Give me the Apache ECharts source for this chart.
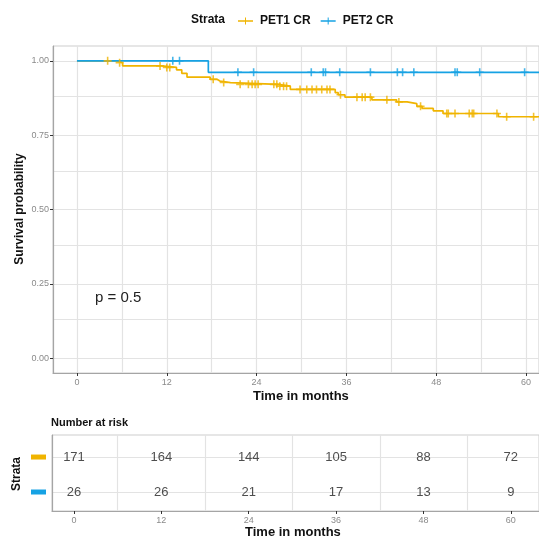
<!DOCTYPE html>
<html>
<head>
<meta charset="utf-8">
<script src="https://cdn.jsdelivr.net/npm/echarts@6/dist/echarts.min.js"></script>
<style>
  html, body { margin: 0; padding: 0; background: #fff; }
  #chart { width: 539px; height: 543px; }
</style>
</head>
<body>
<div id="chart"></div>
<script>
// strata
const strata = ['PET1 CR', 'PET2 CR'];
const colors = ['#F0B400', '#16A2E4'];

// KM steps (time in months, survival after the step)
const pet1Times = [0, 5.3, 6.1, 11.3, 13.3, 14.0, 14.7, 17.8, 18.7, 19.1, 20.5, 26.9, 28.5, 34.5, 34.9, 35.8, 39.4, 42.7, 44.1, 45.4, 46.1, 47.6, 48.9, 56.3, 64];
const pet1Surv  = [1.0, 0.994, 0.983, 0.978, 0.970, 0.958, 0.945, 0.938, 0.932, 0.927, 0.921, 0.915, 0.904, 0.893, 0.886, 0.878, 0.869, 0.862, 0.856, 0.847, 0.840, 0.832, 0.823, 0.812, 0.812];
const pet2Times = [0, 17.55, 64];
const pet2Surv  = [1.0, 0.9615, 0.9615];

// censoring times
const pet1Censor = [4.1, 5.7, 11.1, 12.0, 12.4, 18.2, 19.6, 21.8, 22.9, 23.4, 23.8, 24.2, 26.3, 26.7, 27.1, 27.6, 28.0, 29.8, 30.7, 31.4, 32.0, 32.7, 33.4, 33.8, 35.2, 37.4, 38.1, 38.5, 39.2, 41.4, 43.0, 45.9, 49.4, 49.6, 50.5, 52.4, 52.8, 53.0, 56.1, 57.4, 61.0];
const pet2Censor = [12.8, 13.7, 21.5, 23.6, 31.3, 32.9, 33.2, 35.1, 39.2, 42.8, 43.5, 45.0, 50.5, 50.8, 53.8, 59.8];

// number at risk
const riskTimes = [0, 12, 24, 36, 48, 60];
const pet1Risk = [171, 164, 144, 105, 88, 72];
const pet2Risk = [26, 26, 21, 17, 13, 9];

const xTicks = [0, 12, 24, 36, 48, 60];
const xGrid = [0, 6, 12, 18, 24, 30, 36, 42, 48, 54, 60];
const riskGrid = [6, 18, 30, 42, 54];
const yTicks = [0, 0.25, 0.5, 0.75, 1];
const yGrid = [0, 0.125, 0.25, 0.375, 0.5, 0.625, 0.75, 0.875, 1];
const pText = 'p = 0.5';

function survAt(times, surv, t) {
  let s = surv[0];
  for (let i = 0; i < times.length; i++) {
    if (times[i] <= t) s = surv[i];
  }
  return s;
}

const plus = 'path://M-0.2,-1H0.2V-0.2H1V0.2H0.2V1H-0.2V0.2H-1V-0.2H-0.2Z';
const gridLine = { color: '#e3e3e3', width: 1.2, type: 'solid' };
const tickLabel = { color: '#8a8a8a', fontSize: 9, fontFamily: 'Liberation Sans' };
const titleStyle = { fontSize: 12, fontWeight: 'bold', fill: '#111', fontFamily: 'Liberation Sans' };

const chart = echarts.init(document.getElementById('chart'));

chart.setOption({
  animation: false,
  textStyle: { fontFamily: 'Liberation Sans' },
  grid: [
    { left: 53, top: 46, right: 0, height: 327, show: true, borderColor: '#cdcdcd', borderWidth: 1 },
    { left: 52, top: 435, right: 0, height: 76, show: true, borderColor: '#cdcdcd', borderWidth: 1 }
  ],
  legend: {
    left: 233, top: 10,
    itemWidth: 15, itemHeight: 10, itemGap: 10,
    icon: 'path://M0,4.3H15V5.7H0Z M7,1.5H8V8.5H7Z',
    data: strata,
    textStyle: { fontSize: 12, fontWeight: 'bold', color: '#111', padding: [0, 0, 0, 2] }
  },
  xAxis: [
    {
      gridIndex: 0, type: 'value', min: -3.2, max: 61.72,
      splitLine: { show: false },
      axisLine: { show: true, onZero: false, lineStyle: { color: '#a5a5a5', width: 1.2 } },
      axisTick: { show: true, customValues: xTicks, length: 3, lineStyle: { color: '#333' } },
      axisLabel: Object.assign({ customValues: xTicks, margin: 5 }, tickLabel)
    },
    {
      gridIndex: 1, type: 'value', min: -3.02, max: 63.87,
      splitLine: { show: false },
      axisLine: { show: true, onZero: false, lineStyle: { color: '#a5a5a5', width: 1.2 } },
      axisTick: { show: true, customValues: xTicks, length: 3, lineStyle: { color: '#333' } },
      axisLabel: Object.assign({ customValues: xTicks, margin: 5 }, tickLabel)
    }
  ],
  yAxis: [
    {
      gridIndex: 0, type: 'value', min: -0.05, max: 1.05,
      splitLine: { show: false },
      axisLine: { show: true, onZero: false, lineStyle: { color: '#a5a5a5', width: 1.2 } },
      axisTick: { show: true, customValues: yTicks, length: 3, lineStyle: { color: '#333' } },
      axisLabel: Object.assign({ customValues: yTicks, margin: 4, formatter: v => v.toFixed(2) }, tickLabel)
    },
    {
      gridIndex: 1, type: 'value', min: 0.457, max: 2.63,
      splitLine: { show: false },
      axisLine: { show: true, onZero: false, lineStyle: { color: '#a5a5a5', width: 1.2 } },
      axisTick: { show: false },
      axisLabel: {
        customValues: [1, 2], margin: 6,
        formatter: v => (v === 2 ? '{a|}' : '{b|}'),
        rich: {
          a: { width: 15, height: 5, backgroundColor: colors[0] },
          b: { width: 15, height: 5, backgroundColor: colors[1] }
        }
      }
    }
  ],
  graphic: [
    { type: 'text', z: 100, left: 191, top: 14, style: Object.assign({ text: 'Strata' }, titleStyle) },
    { type: 'text', z: 100, left: 95, top: 290, style: { text: pText, fontSize: 15, fill: '#222', fontFamily: 'Liberation Sans' } },
    { type: 'text', z: 100, left: 253, top: 390, style: Object.assign({ text: 'Time in months' }, titleStyle, { fontSize: 13 }) },
    { type: 'text', z: 100, left: 51, top: 417, style: Object.assign({ text: 'Number at risk' }, titleStyle, { fontSize: 11 }) },
    { type: 'text', z: 100, left: 245, top: 526, style: Object.assign({ text: 'Time in months' }, titleStyle, { fontSize: 13 }) },
    { type: 'text', z: 100, x: 20, y: 209, rotation: Math.PI / 2, style: Object.assign({ text: 'Survival probability', align: 'center', verticalAlign: 'middle' }, titleStyle) },
    { type: 'text', z: 100, x: 17, y: 474, rotation: Math.PI / 2, style: Object.assign({ text: 'Strata', align: 'center', verticalAlign: 'middle' }, titleStyle) }
  ],
  series: [
    // grid lines, main panel
    {
      type: 'line', xAxisIndex: 0, yAxisIndex: 0, data: [], silent: true, z: 0,
      markLine: {
        silent: true, symbol: 'none', label: { show: false }, z: 0,
        lineStyle: gridLine, animation: false,
        data: xGrid.map(v => ({ xAxis: v })).concat(yGrid.map(v => ({ yAxis: v })))
      }
    },
    // grid lines, risk table
    {
      type: 'line', xAxisIndex: 1, yAxisIndex: 1, data: [], silent: true, z: 0,
      markLine: {
        silent: true, symbol: 'none', label: { show: false }, z: 0,
        lineStyle: gridLine, animation: false,
        data: riskGrid.map(v => ({ xAxis: v })).concat([1, 2].map(v => ({ yAxis: v })))
      }
    },
    {
      name: strata[0], type: 'line', step: 'end', xAxisIndex: 0, yAxisIndex: 0, z: 3,
      showSymbol: false, color: colors[0], lineStyle: { width: 1.7 },
      data: pet1Times.map((t, i) => [t, pet1Surv[i]])
    },
    {
      name: strata[1], type: 'line', step: 'end', xAxisIndex: 0, yAxisIndex: 0, z: 3,
      showSymbol: false, color: colors[1], lineStyle: { width: 1.7 },
      data: pet2Times.map((t, i) => [t, pet2Surv[i]])
    },
    {
      name: strata[0], type: 'scatter', xAxisIndex: 0, yAxisIndex: 0, z: 4,
      symbol: plus, symbolSize: 8, color: colors[0],
      data: pet1Censor.map(t => [t, survAt(pet1Times, pet1Surv, t)])
    },
    {
      name: strata[1], type: 'scatter', xAxisIndex: 0, yAxisIndex: 0, z: 4,
      symbol: plus, symbolSize: 8, color: colors[1],
      data: pet2Censor.map(t => [t, survAt(pet2Times, pet2Surv, t)])
    },
    // number at risk
    {
      type: 'scatter', xAxisIndex: 1, yAxisIndex: 1, symbolSize: 0, z: 4,
      label: { show: true, position: 'inside', fontSize: 13, color: '#222', formatter: p => p.value[2] },
      data: riskTimes.map((t, i) => [t, 2, pet1Risk[i]]).concat(riskTimes.map((t, i) => [t, 1, pet2Risk[i]]))
    }
  ]
});
</script>
</body>
</html>
